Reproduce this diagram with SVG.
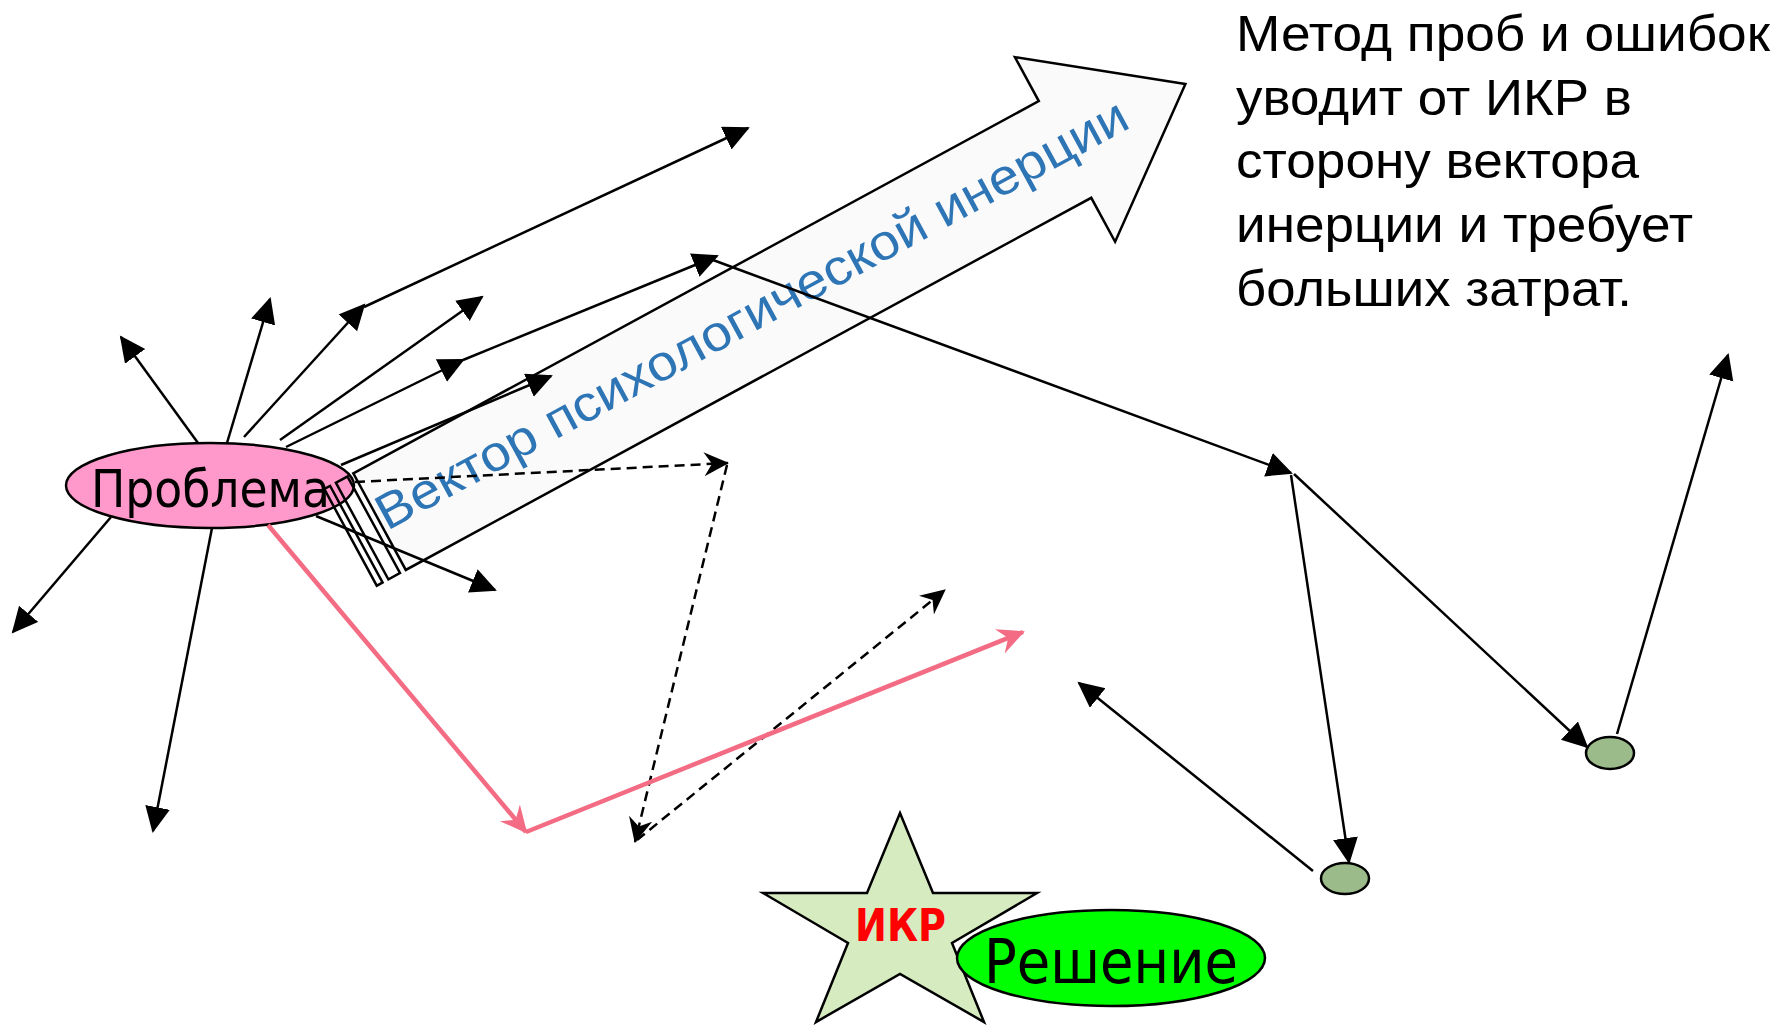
<svg xmlns="http://www.w3.org/2000/svg" width="1781" height="1026" viewBox="0 0 1781 1026">
  <style>
    .ln { fill: none; stroke: #000; stroke-width: 2.5; }
    .dash { fill: none; stroke: #000; stroke-width: 2.5; stroke-dasharray: 10 6; }
    .pink { fill: none; stroke: #F36C84; stroke-width: 4.5; }
    .edge { stroke: #000; stroke-width: 2.5; }
    .note { font-family: "Liberation Sans", Arial, sans-serif; font-size: 50px; fill: #000; }
    .lbl { font-family: "DejaVu Sans Condensed", "DejaVu Sans", sans-serif; fill: #000; }
  </style>
  <defs>
    <marker id="tri" markerUnits="userSpaceOnUse" markerWidth="30" markerHeight="30" refX="24" refY="12.5" orient="auto">
      <path d="M0,0 L26,12.5 L0,25 Z" fill="#000"/>
    </marker>
    <marker id="stealth" markerUnits="userSpaceOnUse" markerWidth="30" markerHeight="30" refX="24" refY="12" orient="auto">
      <path d="M0,0 L25,12 L0,24 L8,12 Z" fill="#000"/>
    </marker>
    <marker id="stealthPink" markerUnits="userSpaceOnUse" markerWidth="32" markerHeight="32" refX="25" refY="13" orient="auto">
      <path d="M0,0 L27,13 L0,26 L9,13 Z" fill="#F36C84"/>
    </marker>
  </defs>

  <rect width="1781" height="1026" fill="#fff"/>

  <!-- starting point -->
  <g id="problem">
    <ellipse cx="210" cy="485.5" rx="144" ry="42.5" fill="#FF99CC" class="edge"/>
    <text class="lbl" x="91" y="507" font-size="52" textLength="239" lengthAdjust="spacingAndGlyphs">Проблема</text>
  </g>

  <!-- striped block arrow: psychological inertia -->
  <g id="inertia-vector" transform="translate(353.3,473.3) rotate(-28.5)">
    <rect x="-33" y="0" width="6.6" height="110" fill="none" class="edge"/>
    <rect x="-19.8" y="0" width="13.2" height="110" fill="none" class="edge"/>
    <polygon points="0,0 780,0 780,-50 917,55 780,160 780,110 0,110" fill="#FAFAFA" class="edge" stroke-linejoin="miter"/>
    <text x="2" y="67" font-family="'Liberation Sans', Arial, sans-serif" font-size="50" fill="#2E75B6" textLength="848" lengthAdjust="spacingAndGlyphs">Вектор психологической инерции</text>
  </g>

  <!-- ideal final result -->
  <g id="ikr">
    <polygon points="900,813 933,893 1037,893 952,943 984,1022 900,974 816,1022 848,943 763,893 867,893" fill="#D6EBC0" class="edge"/>
    <text x="855" y="941" font-family="'DejaVu Sans Condensed', 'DejaVu Sans', sans-serif" font-weight="bold" font-size="45" fill="#FF0000" textLength="91" lengthAdjust="spacingAndGlyphs">ИКР</text>
  </g>

  <g id="solution">
    <ellipse cx="1111" cy="958" rx="154" ry="48" fill="#00FF00" class="edge"/>
    <text class="lbl" x="984" y="983" font-size="61" textLength="254" lengthAdjust="spacingAndGlyphs">Решение</text>
  </g>

  <g id="trial-1">
    <ellipse cx="1345" cy="878.5" rx="24" ry="15.5" fill="#9CBB8B" class="edge"/>
  </g>
  <g id="trial-2">
    <ellipse cx="1610" cy="753" rx="24" ry="16" fill="#9CBB8B" class="edge"/>
  </g>

  <g id="connectors">
    <!-- random tries radiating from the problem -->
    <line class="ln" x1="198" y1="443" x2="121" y2="337" marker-end="url(#tri)"/>
    <line class="ln" x1="227" y1="443" x2="270" y2="299" marker-end="url(#tri)"/>
    <line class="ln" x1="244" y1="437" x2="364" y2="305" marker-end="url(#tri)"/>
    <line class="ln" x1="364" y1="307" x2="748" y2="128" marker-end="url(#tri)"/>
    <line class="ln" x1="280" y1="440" x2="482" y2="297" marker-end="url(#tri)"/>
    <line class="ln" x1="286" y1="447" x2="463" y2="360" marker-end="url(#tri)"/>
    <line class="ln" x1="463" y1="360" x2="717" y2="256" marker-end="url(#tri)"/>
    <line class="ln" x1="713" y1="260" x2="1291" y2="473" marker-end="url(#tri)"/>
    <line class="ln" x1="341" y1="465" x2="551" y2="376" marker-end="url(#tri)"/>
    <line class="ln" x1="316" y1="516" x2="495" y2="590" marker-end="url(#tri)"/>
    <line class="ln" x1="111" y1="517" x2="13" y2="632" marker-end="url(#tri)"/>
    <line class="ln" x1="212" y1="528" x2="153" y2="831" marker-end="url(#tri)"/>

    <!-- far branch on the right -->
    <line class="ln" x1="1291" y1="475" x2="1349" y2="862" marker-end="url(#tri)"/>
    <line class="ln" x1="1294" y1="474" x2="1587" y2="747" marker-end="url(#tri)"/>
    <line class="ln" x1="1617" y1="734" x2="1728" y2="355" marker-end="url(#tri)"/>
    <line class="ln" x1="1313" y1="871" x2="1079" y2="683" marker-end="url(#tri)"/>

    <!-- dashed zigzag -->
    <line class="dash" x1="355" y1="482" x2="728" y2="463" marker-end="url(#stealth)"/>
    <line class="dash" x1="727" y1="465" x2="635" y2="842" marker-end="url(#stealth)"/>
    <line class="dash" x1="637" y1="840" x2="945" y2="590" marker-end="url(#stealth)"/>

    <!-- pink path -->
    <line class="pink" x1="268" y1="525" x2="526" y2="832" marker-end="url(#stealthPink)"/>
    <line class="pink" x1="526" y1="832" x2="1023" y2="632" marker-end="url(#stealthPink)"/>
  </g>

  <g id="note">
    <text class="note" x="1236" y="51" textLength="534" lengthAdjust="spacingAndGlyphs">Метод проб и ошибок</text>
    <text class="note" x="1236" y="115" textLength="396" lengthAdjust="spacingAndGlyphs">уводит от ИКР в</text>
    <text class="note" x="1236" y="178" textLength="403" lengthAdjust="spacingAndGlyphs">сторону вектора</text>
    <text class="note" x="1236" y="242" textLength="457" lengthAdjust="spacingAndGlyphs">инерции и требует</text>
    <text class="note" x="1236" y="306" textLength="396" lengthAdjust="spacingAndGlyphs">больших затрат.</text>
  </g>
</svg>
